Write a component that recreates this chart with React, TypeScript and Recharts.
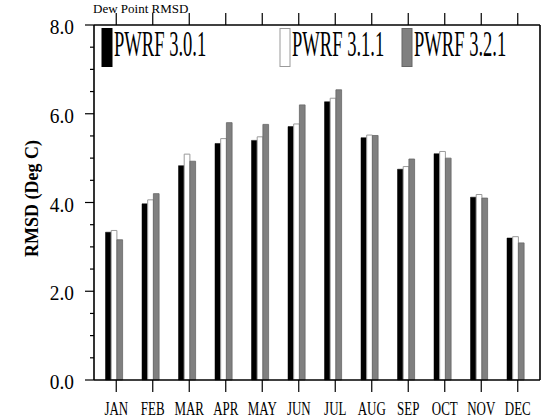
import React from "react";
import { BarChart, Bar, XAxis, YAxis, Legend } from "recharts";

const months = ["JAN", "FEB", "MAR", "APR", "MAY", "JUN", "JUL", "AUG", "SEP", "OCT", "NOV", "DEC"];
const pwrf301 = [3.33, 3.97, 4.83, 5.33, 5.4, 5.71, 6.27, 5.46, 4.75, 5.1, 4.12, 3.2];
const pwrf311 = [3.37, 4.06, 5.09, 5.44, 5.48, 5.77, 6.35, 5.52, 4.81, 5.15, 4.18, 3.23];
const pwrf321 = [3.16, 4.2, 4.93, 5.8, 5.76, 6.2, 6.54, 5.51, 4.98, 5.0, 4.1, 3.09];
const seriesNames = ["PWRF 3.0.1", "PWRF 3.1.1", "PWRF 3.2.1"];
const yTicks = [0, 0.5, 1, 1.5, 2, 2.5, 3, 3.5, 4, 4.5, 5, 5.5, 6, 6.5, 7, 7.5, 8];
const title = "Dew Point RMSD";
const yLabel = "RMSD (Deg C)";

const data = months.map((m, i) => ({
  month: m,
  a: pwrf301[i],
  b: pwrf311[i],
  c: pwrf321[i],
}));

const FONT = "'Liberation Serif', 'Times New Roman', Times, serif";
const STYLES = [
  { fill: "#000000", stroke: "#000000" },
  { fill: "#ffffff", stroke: "#9a9a9a" },
  { fill: "#808080", stroke: "#666666" },
];
const LEGEND_X = [102, 280, 402];
const TICK_SHIFT = 2.5;

const isMajor = (v: number) => Math.abs(v % 2) < 1e-9;

const LeftTick = (props: any) => {
  const { x, y, payload } = props;
  const major = isMajor(payload.value);
  return (
    <g>
      <line x1={x - (major ? 9 : 4)} x2={x} y1={y} y2={y} stroke="#000" strokeWidth={1.2} />
      {major && (
        <text
          transform={`translate(${x - 20},${y + 9}) scale(0.88,1)`}
          textAnchor="end"
          fontSize={22}
          fontFamily={FONT}
          fill="#000"
        >
          {Number(payload.value).toFixed(1)}
        </text>
      )}
    </g>
  );
};

const RightTick = (props: any) => {
  const { x, y, payload } = props;
  const major = isMajor(payload.value);
  return <line x1={x} x2={x + (major ? 10 : 5)} y1={y} y2={y} stroke="#000" strokeWidth={1.2} />;
};

const BottomTick = (props: any) => {
  const { x, y, payload } = props;
  const tx = x + TICK_SHIFT;
  return (
    <g>
      <line x1={tx} x2={tx} y1={y} y2={y + 12} stroke="#000" strokeWidth={1.2} />
      <text
        transform={`translate(${tx},${y + 35}) scale(0.72,1)`}
        textAnchor="middle"
        fontSize={18}
        fontFamily={FONT}
        fill="#000"
      >
        {payload.value}
      </text>
    </g>
  );
};

const TopTick = (props: any) => {
  const { x, y } = props;
  const tx = x + TICK_SHIFT;
  return <line x1={tx} x2={tx} y1={y} y2={y - 12} stroke="#000" strokeWidth={1.2} />;
};

const YLabel = (props: any) => {
  const vb = props.viewBox || { x: 0, y: 0, width: 0, height: 0 };
  const cx = vb.x + 28;
  const cy = vb.y + vb.height / 2 - 4;
  return (
    <text
      transform={`translate(${cx},${cy}) rotate(-90)`}
      textAnchor="middle"
      fontSize={18}
      fontWeight="bold"
      fontFamily={FONT}
      fill="#000"
    >
      {yLabel}
    </text>
  );
};

const LegendContent = () => (
  <svg
    width={553}
    height={70}
    style={{ position: "absolute", left: 0, top: 0, overflow: "visible", pointerEvents: "none" }}
  >
    <text x={93} y={13} fontSize={13} fontFamily={FONT} fill="#000">
      {title}
    </text>
    {seriesNames.map((name, i) => (
      <g key={name}>
        <rect
          x={LEGEND_X[i]}
          y={28.5}
          width={10}
          height={38}
          fill={STYLES[i].fill}
          stroke={STYLES[i].stroke}
          strokeWidth={1}
        />
        <text
          transform={`translate(${LEGEND_X[i] + 12},56) scale(0.53,1)`}
          fontSize={35}
          fontFamily={FONT}
          fill="#000"
        >
          {name}
        </text>
      </g>
    ))}
  </svg>
);

export default function App() {
  return (
    <div style={{ position: "absolute", left: 0, top: 0, width: 553, height: 417, background: "#fff" }}>
      <BarChart
        width={553}
        height={417}
        data={data}
        margin={{ top: 24, right: 12, bottom: 0, left: 10 }}
        barGap={0}
        barSize={5.7}
      >
        <XAxis
          dataKey="month"
          xAxisId="bottom"
          orientation="bottom"
          height={37}
          interval={0}
          padding={{ left: 1.5, right: 6.5 }}
          tickSize={0}
          tickMargin={0}
          tickLine={false}
          axisLine={{ stroke: "#000", strokeWidth: 1.6 }}
          tick={<BottomTick />}
        />
        <XAxis
          dataKey="month"
          xAxisId="top"
          orientation="top"
          height={1}
          interval={0}
          padding={{ left: 1.5, right: 6.5 }}
          tickSize={0}
          tickMargin={0}
          tickLine={false}
          axisLine={{ stroke: "#000", strokeWidth: 1.6 }}
          tick={<TopTick />}
        />
        <YAxis
          yAxisId="left"
          orientation="left"
          width={84}
          domain={[0, 8]}
          ticks={yTicks}
          interval={0}
          tickSize={0}
          tickMargin={0}
          tickLine={false}
          axisLine={{ stroke: "#000", strokeWidth: 1.6 }}
          tick={<LeftTick />}
          label={{ content: <YLabel /> }}
        />
        <YAxis
          yAxisId="right"
          orientation="right"
          width={1}
          domain={[0, 8]}
          ticks={yTicks}
          interval={0}
          tickSize={0}
          tickMargin={0}
          tickLine={false}
          axisLine={{ stroke: "#000", strokeWidth: 1.6 }}
          tick={<RightTick />}
        />
        <Legend
          content={<LegendContent />}
          wrapperStyle={{ position: "absolute", left: 0, top: 0, width: 0, height: 0, overflow: "visible" }}
        />
        <Bar dataKey="a" name={seriesNames[0]} xAxisId="bottom" yAxisId="left" fill={STYLES[0].fill} stroke={STYLES[0].stroke} strokeWidth={0.5} isAnimationActive={false} />
        <Bar dataKey="b" name={seriesNames[1]} xAxisId="bottom" yAxisId="left" fill={STYLES[1].fill} stroke={STYLES[1].stroke} strokeWidth={1} isAnimationActive={false} />
        <Bar dataKey="c" name={seriesNames[2]} xAxisId="bottom" yAxisId="left" fill={STYLES[2].fill} stroke={STYLES[2].stroke} strokeWidth={0.8} isAnimationActive={false} />
      </BarChart>
    </div>
  );
}
